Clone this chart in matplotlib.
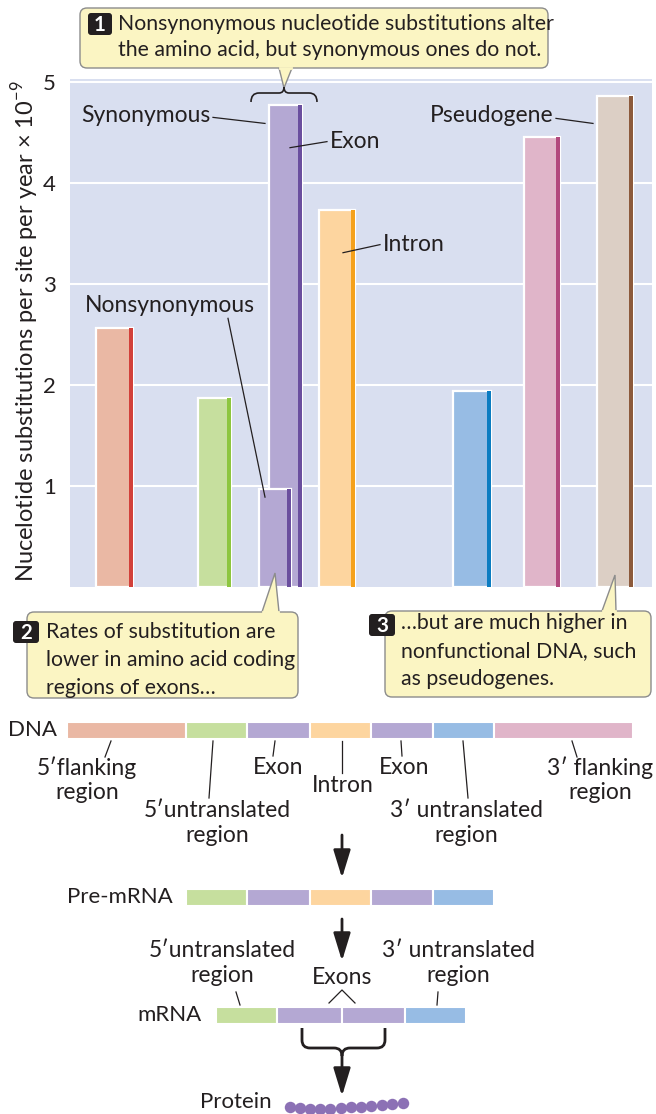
import numpy as np
import matplotlib.pyplot as plt
from matplotlib.patches import FancyBboxPatch, Polygon, PathPatch
from matplotlib.path import Path

plt.rcParams['font.family'] = ['Lato', 'DejaVu Sans']
plt.rcParams['mathtext.fontset'] = 'custom'
plt.rcParams['mathtext.rm'] = 'Lato'

# substitution rates, x 10^-9 per site per year
regions = ["5' flanking", "5' untranslated", "Nonsynonymous", "Synonymous",
           "Intron", "3' untranslated", "3' flanking", "Pseudogene"]
rates = [2.56, 1.87, 0.97, 4.77, 3.73, 1.94, 4.46, 4.86]
bar_keys = ['flank5', 'utr5', 'exon', 'exon', 'intron', 'utr3', 'flank3', 'pseudo']
yticks = [1, 2, 3, 4, 5]

# gene model underneath (segment lengths in pixels)
dna_parts = ['flank5', 'utr5', 'exon', 'intron', 'exon', 'utr3', 'flank3']
dna_len = [119, 61, 63, 61, 62, 61, 139]
pre_parts = ['utr5', 'exon', 'intron', 'exon', 'utr3']
pre_len = [61, 63, 61, 62, 61]
mrna_parts = ['utr5', 'exon', 'exon', 'utr3']
mrna_len = [61, 65, 63, 61]

# protein bead chain
bead_x = [290, 300, 310, 320, 330, 341, 351, 361, 371, 382, 392, 403]
bead_y = [1107, 1108, 1109, 1109, 1109, 1108, 1107, 1107, 1106, 1105, 1104, 1103]

fill = {'flank5': '#EAB8A4', 'utr5': '#C6DF9E', 'exon': '#B4A8D3', 'intron': '#FDD59F',
        'utr3': '#97BCE4', 'flank3': '#E0B5C9', 'pseudo': '#DCCFC5'}
edge = {'flank5': '#D2403A', 'utr5': '#8DC63F', 'exon': '#6A4E9E', 'intron': '#F5A11C',
        'utr3': '#0B7CC1', 'flank3': '#B2487D', 'pseudo': '#8C5A3C'}
ink = '#231F20'
note = '#FBF5C3'
FS = 16.5     # labels
NS = 15.3     # callout text

W, H = 656, 1114
fig = plt.figure(figsize=(W / 100, H / 100), dpi=100)

# ---- bar chart ----
bar_pos = [0.445, 1.445, 2.05, 2.155, 2.67, 4.02, 4.72, 5.45]
bar_w = [0.37, 0.33, 0.32, 0.33, 0.36, 0.38, 0.36, 0.36]

ax = fig.add_axes([70 / W, (H - 587) / H, 582 / W, 508 / H])
ax.set_facecolor('#D9DFF0')
ax.set_xlim(0, 5.82)
ax.set_ylim(0, 5.03)
for s in ax.spines.values():
    s.set_visible(False)
ax.set_xticks([])
ax.set_yticks(yticks)
ax.set_yticklabels([str(t) for t in yticks], fontsize=16, color=ink)
ax.tick_params(axis='y', length=0, pad=10)
ax.yaxis.grid(True, color='white', lw=1.5)
ax.set_axisbelow(True)

# synonymous bar goes behind the nonsynonymous one
order = [0, 1, 3, 2, 4, 5, 6, 7]
for z, i in enumerate(order):
    k = bar_keys[i]
    ax.bar(bar_pos[i], rates[i], width=bar_w[i], color=fill[k],
           edgecolor='white', linewidth=1.6, zorder=2 + z)
    ax.bar(bar_pos[i] + bar_w[i] / 2, rates[i], width=-0.04, align='edge',
           color=edge[k], linewidth=0, zorder=2 + z)

def label(text, xy, line, ha):
    ax.text(xy[0], xy[1], text, ha=ha, va='center', fontsize=FS, color=ink, zorder=20)
    ax.plot([line[0], line[2]], [line[1], line[3]], color=ink, lw=0.9,
            zorder=20, clip_on=False)

label('Synonymous', (1.40, 4.67), (1.43, 4.65, 1.95, 4.59), 'right')
label('Exon', (2.60, 4.41), (2.20, 4.35, 2.57, 4.41), 'left')
label('Intron', (3.13, 3.39), (2.73, 3.31, 3.10, 3.39), 'left')
label('Nonsynonymous', (1.00, 2.79), (1.58, 2.66, 1.95, 0.89), 'center')
label('Pseudogene', (4.83, 4.67), (4.86, 4.64, 5.23, 4.59), 'right')

# ---- overlay in pixel units for notes and the gene diagram ----
ov = fig.add_axes([0, 0, 1, 1], zorder=5)
ov.set_xlim(0, W)
ov.set_ylim(H, 0)
ov.axis('off')

ov.text(25, 331, 'Nucelotide substitutions per site per year × 10$^{-9}$',
        rotation=90, ha='center', va='center', fontsize=17, color=ink)


def callout(box, base, tip, num, badge, lines, tx, ty, dy):
    x0, y0, x1, y1 = box
    ov.add_patch(FancyBboxPatch((x0, y0), x1 - x0, y1 - y0,
                                boxstyle='round,pad=0,rounding_size=7',
                                fc=note, ec='#8C8C8C', lw=1))
    ov.add_patch(Polygon([base[0], tip, base[1]], closed=False,
                         fc=note, ec='#8C8C8C', lw=1))
    ov.plot([base[0][0] + 1, base[1][0] - 1], [base[0][1], base[1][1]],
            color=note, lw=2)
    bx0, by0, bx1, by1 = badge
    ov.add_patch(FancyBboxPatch((bx0, by0), bx1 - bx0, by1 - by0,
                                boxstyle='round,pad=0,rounding_size=3',
                                fc=ink, ec='none'))
    ov.text((bx0 + bx1) / 2, (by0 + by1) / 2 + 1, num, ha='center', va='center',
            fontsize=NS - 0.5, color='white', fontweight='bold')
    for j, t in enumerate(lines):
        ov.text(tx, ty + j * dy, t, ha='left', va='center', fontsize=NS, color=ink)


callout((80, 8, 548, 68), [(279, 68), (292, 68)], (284, 88), '1', (88, 13, 112, 35),
        ['Nonsynonymous nucleotide substitutions alter',
         'the amino acid, but synonymous ones do not.'], 118, 24, 26)
callout((27, 612, 298, 698), [(262, 612), (279, 612)], (275, 573), '2', (13, 621, 39, 643),
        ['Rates of substitution are', 'lower in amino acid coding',
         'regions of exons…'], 46, 632, 28)
callout((385, 611, 651, 697), [(602, 611), (616, 611)], (615, 575), '3', (369, 614, 395, 636),
        ['…but are much higher in', 'nonfunctional DNA, such',
         'as pseudogenes.'], 401, 623, 28)

# brace over the two exon bars
M, L, C = Path.MOVETO, Path.LINETO, Path.CURVE3
brace = Path([(251, 102), (251, 93), (259, 93), (279, 93), (284, 93), (284, 87),
              (284, 93), (289, 93), (309, 93), (317, 93), (317, 102)],
             [M, C, C, L, C, C, C, C, L, C, C])
ov.add_patch(PathPatch(brace, fc='none', ec=ink, lw=1.2))


def strand(parts, lengths, left, yc, name, name_x):
    lefts = left + np.concatenate([[0], np.cumsum(lengths)[:-1]])
    ov.barh(yc, lengths, left=lefts, height=17, align='center',
            color=[fill[p] for p in parts], edgecolor='white', linewidth=1.5)
    ov.text(name_x, yc, name, ha='right', va='center', fontsize=16, color=ink)


def tag(text, x, y, line=None):
    ov.text(x, y, text, ha='center', va='center', fontsize=FS, color=ink,
            linespacing=1.2)
    if line is not None:
        ov.plot([line[0], line[2]], [line[1], line[3]], color=ink, lw=0.9)


def down_arrow(y0, y1):
    ov.annotate('', xy=(342, y1), xytext=(342, y0),
                arrowprops=dict(arrowstyle='-|>,head_length=0.85,head_width=0.26',
                                mutation_scale=20, lw=2, color=ink,
                                shrinkA=0, shrinkB=0))


strand(dna_parts, dna_len, 67, 730, 'DNA', 57)
tag('5′flanking\nregion', 87, 780, (111, 741, 105, 757))
tag('5′untranslated\nregion', 217, 823, (213, 741, 209, 798))
tag('Exon', 278, 768, (275, 741, 273, 756))
tag('Intron', 343, 785, (342, 741, 342, 773))
tag('Exon', 404, 768, (401, 741, 402, 756))
tag('3′ untranslated\nregion', 466, 823, (463, 741, 468, 798))
tag('3′ flanking\nregion', 600, 780, (572, 741, 577, 757))

down_arrow(835, 878)
strand(pre_parts, pre_len, 186, 897, 'Pre-mRNA', 173)
down_arrow(919, 961)

tag('5′untranslated\nregion', 222, 963, (236, 992, 240, 1005))
tag('Exons', 342, 978)
ov.plot([329, 342, 355], [1003, 990, 1003], color=ink, lw=0.9)
tag('3′ untranslated\nregion', 458, 963, (438, 992, 437, 1005))
strand(mrna_parts, mrna_len, 216, 1015, 'mRNA', 202)

# brace joining the exons into the protein arrow
left_half = Path([(302, 1028), (302, 1040), (302, 1048), (310, 1048), (334, 1048),
                  (342, 1048), (342, 1056)], [M, L, C, C, L, C, C])
right_half = Path([(385, 1028), (385, 1040), (385, 1048), (377, 1048), (350, 1048),
                   (342, 1048), (342, 1056)], [M, L, C, C, L, C, C])
for p in (left_half, right_half):
    ov.add_patch(PathPatch(p, fc='none', ec=ink, lw=2))
down_arrow(1054, 1096)

ov.text(272, 1108.5, 'Protein', ha='right', va='baseline', fontsize=16, color=ink)
ov.scatter(bead_x, bead_y, s=68, color='#8C71B5', linewidths=0, zorder=3)

fig.savefig('out.png', dpi=100)
